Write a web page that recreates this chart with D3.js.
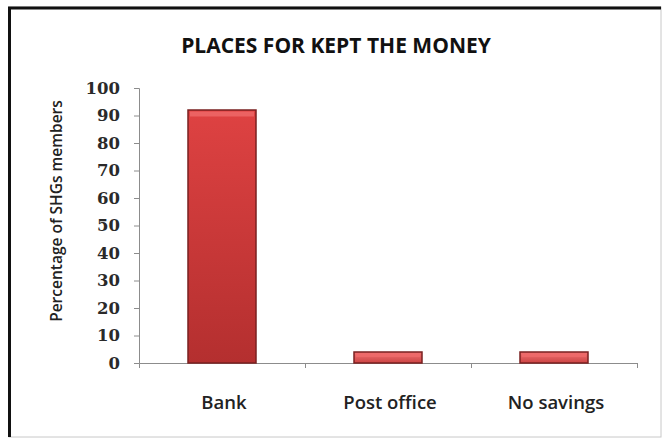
<!DOCTYPE html>
<html>
<head>
<meta charset="utf-8">
<script src="https://cdn.jsdelivr.net/npm/d3@7"></script>
<style>
  body { margin: 0; background: #fff; }
  svg { display: block; }
</style>
</head>
<body>
<svg id="chart" width="663" height="439"></svg>
<script>
const categories = ['Bank', 'Post office', 'No savings'];
const values = [92, 4, 4];
const yTicks = [0, 10, 20, 30, 40, 50, 60, 70, 80, 90, 100];
const title = 'PLACES FOR KEPT THE MONEY';
const yTitle = 'Percentage of SHGs members';

function drawChart() {
  const svg = d3.select('#chart');
  const width = 663, height = 439;
  const margin = {top: 88, right: 26, bottom: 76, left: 139};

  // frame: heavy black on top/left, light grey on right/bottom
  svg.append('rect')
    .attr('x', 9).attr('y', 7)
    .attr('width', 652).attr('height', 430)
    .attr('fill', '#fff')
    .attr('stroke', '#c8c8c8').attr('stroke-width', 1);
  svg.append('path')
    .attr('d', `M9.5,437 V8 H661`)
    .attr('fill', 'none')
    .attr('stroke', '#111').attr('stroke-width', 3);

  const defs = svg.append('defs');
  const grad = defs.append('linearGradient')
    .attr('id', 'barGrad')
    .attr('x1', 0).attr('y1', 0).attr('x2', 0).attr('y2', 1);
  grad.append('stop').attr('offset', '0%').attr('stop-color', '#de4242');
  grad.append('stop').attr('offset', '100%').attr('stop-color', '#b42f2f');

  const smallGrad = defs.append('linearGradient')
    .attr('id', 'barGradSmall')
    .attr('x1', 0).attr('y1', 0).attr('x2', 0).attr('y2', 1);
  smallGrad.append('stop').attr('offset', '0%').attr('stop-color', '#f07272');
  smallGrad.append('stop').attr('offset', '100%').attr('stop-color', '#cc4444');

  const y = d3.scaleLinear()
    .domain([0, 100])
    .range([height - margin.bottom, margin.top]);

  // category slots (ticks sit at slot boundaries)
  const xSlot = d3.scaleLinear()
    .domain([0, categories.length])
    .range([margin.left, width - margin.right]);

  // y axis
  const yAxis = svg.append('g')
    .attr('class', 'axis')
    .attr('transform', `translate(${margin.left}, 0)`)
    .call(d3.axisLeft(y).tickValues(yTicks).tickSize(5).tickPadding(14));
  yAxis.select('.domain').attr('stroke', '#8c8c8c');
  yAxis.selectAll('.tick line').attr('stroke', '#8c8c8c');
  yAxis.selectAll('.tick text')
    .attr('font-family', '"DejaVu Serif", serif')
    .attr('font-weight', 'bold')
    .attr('font-size', 16.5)
    .attr('fill', '#2a2a2a');

  const xAxis = svg.append('g')
    .attr('transform', `translate(0, ${height - margin.bottom})`)
    .call(d3.axisBottom(xSlot).tickValues(d3.range(1, categories.length + 1)).tickSize(5).tickFormat(''));
  xAxis.select('.domain').attr('stroke', '#8c8c8c');
  xAxis.selectAll('.tick line').attr('stroke', '#8c8c8c');

  // category labels
  svg.selectAll('text.cat')
    .data(categories)
    .join('text')
    .attr('class', 'cat')
    .attr('x', (d, i) => xSlot(i + 0.5) + 2)
    .attr('y', height - margin.bottom + 46)
    .attr('text-anchor', 'middle')
    .attr('font-family', '"Open Sans", sans-serif')
    .attr('font-weight', 600)
    .attr('font-size', 18.5)
    .attr('fill', '#222')
    .text(d => d);

  // bars
  const barW = 68;
  svg.selectAll('rect.bar')
    .data(values)
    .join('rect')
    .attr('class', 'bar')
    .attr('x', (d, i) => xSlot(i + 0.5) - barW / 2)
    .attr('y', d => y(d))
    .attr('width', barW)
    .attr('height', d => y(0) - y(d))
    .attr('fill', d => d > 20 ? 'url(#barGrad)' : 'url(#barGradSmall)')
    .attr('stroke', '#7a2020')
    .attr('stroke-width', 1.5);

  // top bevel highlight
  svg.selectAll('rect.bevel')
    .data(values)
    .join('rect')
    .attr('class', 'bevel')
    .attr('x', (d, i) => xSlot(i + 0.5) - barW / 2 + 2)
    .attr('y', d => y(d) + 1.5)
    .attr('width', barW - 4)
    .attr('height', d => Math.min(5, (y(0) - y(d)) / 3))
    .attr('fill', '#ef6a6a')
    .attr('opacity', 0.8);

  // title
  svg.append('text')
    .attr('x', 336)
    .attr('y', 53)
    .attr('text-anchor', 'middle')
    .attr('font-family', '"Open Sans", sans-serif')
    .attr('font-weight', 'bold')
    .attr('font-size', 21)
    .attr('fill', '#111')
    .text(title);

  // y axis title
  svg.append('text')
    .attr('transform', `translate(62, 211) rotate(-90)`)
    .attr('text-anchor', 'middle')
    .attr('font-family', '"Open Sans", sans-serif')
    .attr('font-weight', 600)
    .attr('font-size', 15.5)
    .attr('fill', '#222')
    .text(yTitle);
}

drawChart();
</script>
</body>
</html>
